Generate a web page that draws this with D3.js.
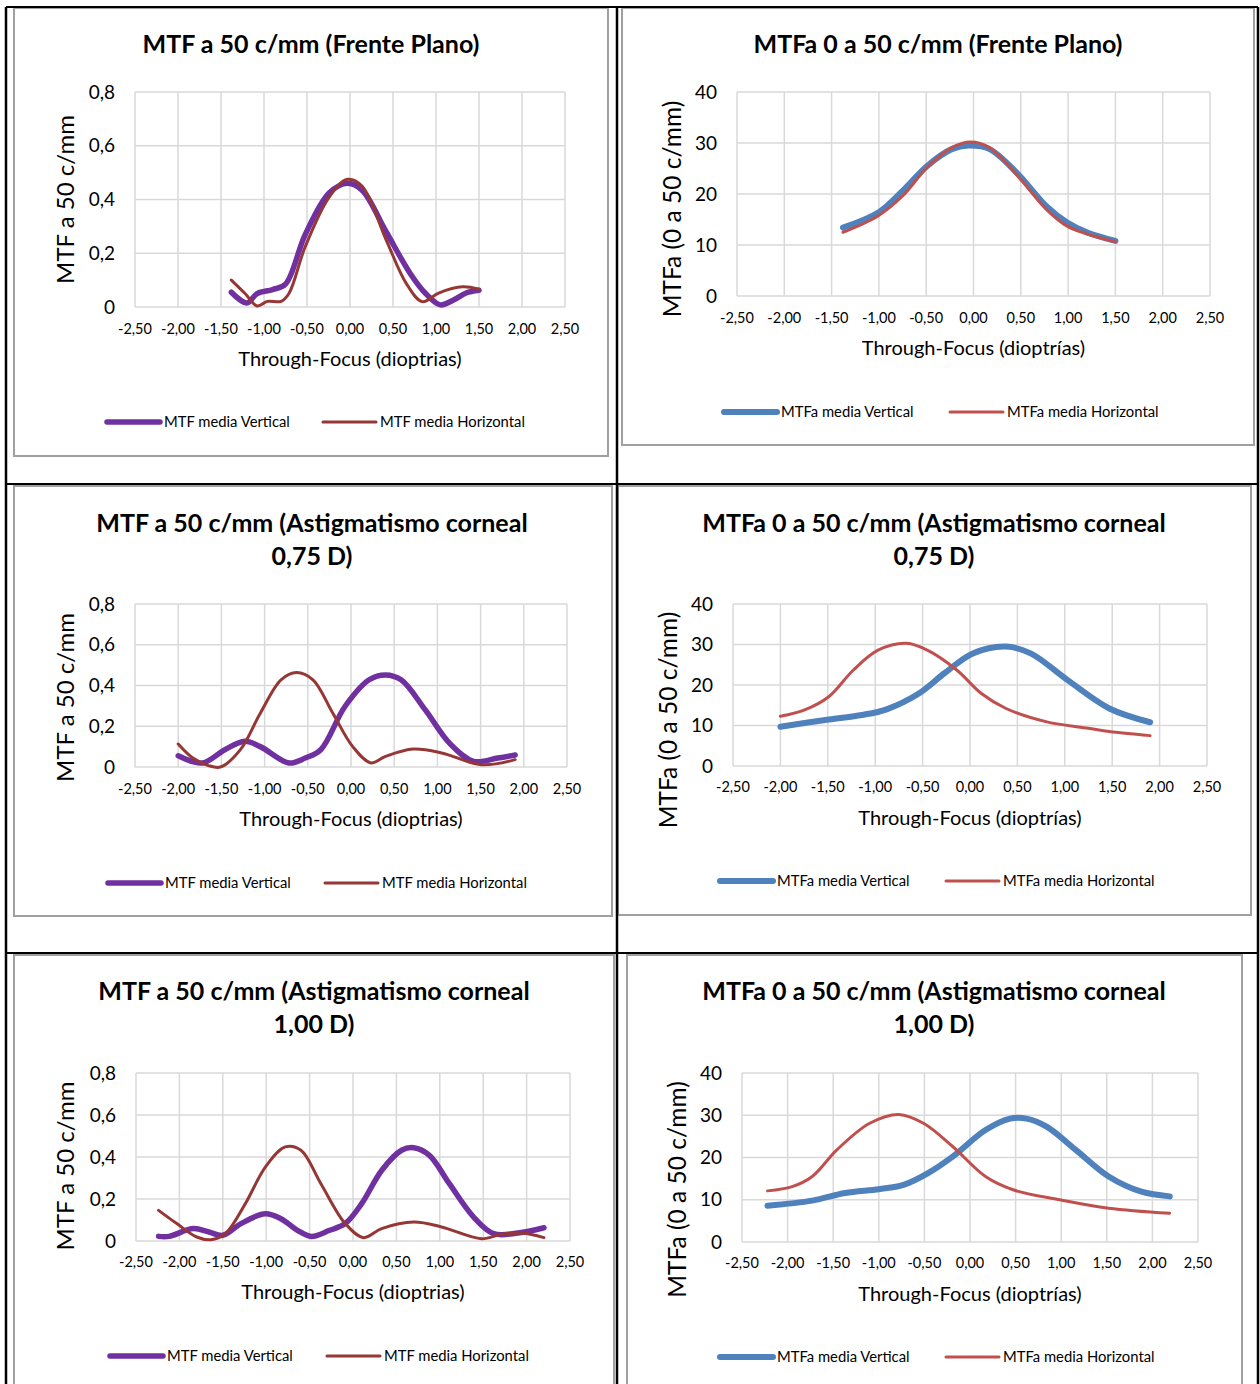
<!DOCTYPE html>
<html>
<head>
<meta charset="utf-8">
<script src="https://cdn.jsdelivr.net/npm/d3@7"></script>
<style>
  body { margin: 0; background: #fff; }
  svg { display: block; font-family: Lato, "Open Sans", sans-serif; }
</style>
</head>
<body>
<div id="chart"></div>
<script>
// through-focus readings [dioptres, value]
const planoMtfVert = [[-1.38,0.055],[-1.2,0.015],[-1.08,0.05],[-0.9,0.065],[-0.75,0.085],[-0.52,0.27],[-0.24,0.425],[-0.03,0.46],[0.14,0.435],[0.42,0.28],[0.7,0.125],[0.88,0.05],[1.05,0.008],[1.21,0.027],[1.35,0.052],[1.5,0.062]];
const planoMtfHor = [[-1.38,0.1],[-1.22,0.05],[-1.08,0.004],[-0.96,0.021],[-0.8,0.021],[-0.71,0.05],[-0.52,0.225],[-0.24,0.41],[-0.03,0.475],[0.14,0.45],[0.42,0.25],[0.65,0.09],[0.84,0.02],[1.03,0.052],[1.31,0.075],[1.5,0.066]];
const planoMtfaVert = [[-1.38,13.4],[-1.01,16.3],[-0.75,20.6],[-0.49,25.5],[-0.23,28.8],[-0.05,29.5],[0.17,28.8],[0.47,23.9],[0.77,17.6],[0.99,14.4],[1.21,12.4],[1.5,10.8]];
const planoMtfaHor = [[-1.38,12.5],[-1.01,15.7],[-0.75,19.6],[-0.49,25.2],[-0.23,29.1],[-0.03,30.2],[0.17,29.1],[0.47,23.5],[0.77,17.0],[0.99,13.7],[1.21,12.1],[1.5,10.65]];

const ast075MtfVert = [[-2.0,0.055],[-1.72,0.02],[-1.46,0.085],[-1.23,0.126],[-1.05,0.1],[-0.72,0.02],[-0.53,0.044],[-0.35,0.085],[-0.07,0.297],[0.21,0.428],[0.4,0.452],[0.58,0.428],[0.86,0.28],[1.14,0.117],[1.42,0.028],[1.7,0.044],[1.9,0.059]];
const ast075MtfHor = [[-2.0,0.113],[-1.83,0.044],[-1.65,0.007],[-1.51,0.0],[-1.28,0.085],[-1.05,0.264],[-0.81,0.428],[-0.63,0.464],[-0.44,0.428],[-0.21,0.264],[0.02,0.1],[0.23,0.02],[0.4,0.052],[0.72,0.088],[1.05,0.069],[1.51,0.011],[1.9,0.036]];
const ast075MtfaVert = [[-2.0,9.7],[-1.49,11.5],[-1.14,12.6],[-0.88,14.0],[-0.54,17.9],[-0.27,22.9],[0.03,27.8],[0.38,29.5],[0.64,27.8],[1.03,21.2],[1.47,14.2],[1.9,10.8]];
const ast075MtfaHor = [[-2.0,12.3],[-1.75,13.8],[-1.49,17.1],[-1.23,23.7],[-0.97,28.6],[-0.67,30.3],[-0.45,28.6],[-0.14,23.7],[0.12,17.9],[0.38,14.2],[0.81,10.9],[1.25,9.3],[1.47,8.5],[1.9,7.5]];

const ast100MtfVert = [[-2.24,0.022],[-2.12,0.022],[-1.84,0.059],[-1.66,0.043],[-1.5,0.027],[-1.29,0.083],[-1.01,0.13],[-0.83,0.106],[-0.64,0.051],[-0.48,0.022],[-0.27,0.051],[-0.09,0.083],[0.1,0.178],[0.33,0.336],[0.56,0.432],[0.7,0.444],[0.88,0.408],[1.11,0.273],[1.39,0.114],[1.62,0.035],[1.9,0.038],[2.2,0.063]];
const ast100MtfHor = [[-2.24,0.146],[-2.03,0.083],[-1.8,0.019],[-1.64,0.006],[-1.47,0.035],[-1.24,0.178],[-1.01,0.352],[-0.78,0.448],[-0.6,0.432],[-0.37,0.273],[-0.09,0.083],[0.12,0.016],[0.33,0.059],[0.7,0.09],[1.02,0.067],[1.48,0.011],[1.71,0.032],[1.95,0.038],[2.2,0.016]];
const ast100MtfaVert = [[-2.22,8.6],[-1.73,9.8],[-1.37,11.6],[-1.0,12.5],[-0.73,13.5],[-0.46,16.3],[-0.19,20.2],[0.17,26.5],[0.44,29.2],[0.62,29.2],[0.84,27.3],[1.16,21.8],[1.52,15.5],[1.88,11.9],[2.19,10.8]];
const ast100MtfaHor = [[-2.22,12.1],[-1.95,13.1],[-1.73,15.5],[-1.46,21.8],[-1.1,28.1],[-0.78,30.2],[-0.51,28.1],[-0.19,22.6],[0.17,15.5],[0.48,12.3],[0.98,10.0],[1.52,8.0],[2.19,6.8]];

const xTicks = [-2.5, -2, -1.5, -1, -0.5, 0, 0.5, 1, 1.5, 2, 2.5];
const mtfTicks = [0, 0.2, 0.4, 0.6, 0.8];
const mtfaTicks = [0, 10, 20, 30, 40];

const mtfNames = ["MTF media Vertical", "MTF media Horizontal"];
const mtfaNames = ["MTFa media Vertical", "MTFa media Horizontal"];
const mtfColors = ["#7030a0", "#953735"];
const mtfaColors = ["#4f81bd", "#c0504d"];

const W = 1260, H = 1384;
const svg = d3.select("#chart").append("svg")
  .attr("width", W).attr("height", H);
svg.append("rect").attr("width", W).attr("height", H).attr("fill", "#fff");

// Excel-style labels: comma decimals, plain hyphen for minus
const comma = v => d3.format(".2f")(v).replace(".", ",").replace("\u2212", "-");
const commaY = v => v === 0 ? "0" : String(v).replace(".", ",");

// layout for the six panels (yOff = shift of the rotated y title from the plot middle)
const panels = [
  { box: [14, 8, 608, 456], title: ["MTF a 50 c/mm (Frente Plano)"], tx: 311, ty: 44,
    plot: [135, 92, 565, 307], yTitle: "MTF a 50 c/mm", yTx: 66, yOff: 0, xTitle: "Through-Focus (dioptrias)",
    xTy: 359, tickY: 329, legY: 422, leg: [107, 323], type: "mtf", series: [planoMtfVert, planoMtfHor] },
  { box: [622, 8, 1254, 445], title: ["MTFa 0 a 50 c/mm (Frente Plano)"], tx: 938, ty: 44,
    plot: [737, 92, 1210, 296], yTitle: "MTFa (0 a 50 c/mm)", yTx: 672, yOff: 15, xTitle: "Through-Focus (dioptrías)",
    xTy: 348, tickY: 318, legY: 412, leg: [724, 950], type: "mtfa", series: [planoMtfaVert, planoMtfaHor] },
  { box: [14, 486, 612, 916], title: ["MTF a 50 c/mm (Astigmatismo corneal", "0,75 D)"], tx: 312, ty: 523,
    plot: [135, 604, 567, 767], yTitle: "MTF a 50 c/mm", yTx: 66, yOff: 12, xTitle: "Through-Focus (dioptrias)",
    xTy: 819, tickY: 789, legY: 883, leg: [108, 325], type: "mtf", series: [ast075MtfVert, ast075MtfHor] },
  { box: [618, 486, 1251, 915], title: ["MTFa 0 a 50 c/mm (Astigmatismo corneal", "0,75 D)"], tx: 934, ty: 523,
    plot: [733, 604, 1207, 766], yTitle: "MTFa (0 a 50 c/mm)", yTx: 668, yOff: 35, xTitle: "Through-Focus (dioptrías)",
    xTy: 818, tickY: 787, legY: 881, leg: [720, 946], type: "mtfa", series: [ast075MtfaVert, ast075MtfaHor] },
  { box: [14, 955, 614, 1400], title: ["MTF a 50 c/mm (Astigmatismo corneal", "1,00 D)"], tx: 314, ty: 991,
    plot: [136, 1073, 570, 1241], yTitle: "MTF a 50 c/mm", yTx: 66, yOff: 9, xTitle: "Through-Focus (dioptrias)",
    xTy: 1292, tickY: 1262, legY: 1356, leg: [110, 327], type: "mtf", series: [ast100MtfVert, ast100MtfHor] },
  { box: [627, 955, 1242, 1400], title: ["MTFa 0 a 50 c/mm (Astigmatismo corneal", "1,00 D)"], tx: 934, ty: 991,
    plot: [742, 1073, 1198, 1242], yTitle: "MTFa (0 a 50 c/mm)", yTx: 677, yOff: 32, xTitle: "Through-Focus (dioptrías)",
    xTy: 1294, tickY: 1263, legY: 1357, leg: [720, 946], type: "mtfa", series: [ast100MtfaVert, ast100MtfaHor] }
];

panels.forEach(p => {
  const g = svg.append("g");
  const [bx0, by0, bx1, by1] = p.box;
  g.append("rect")
    .attr("x", bx0).attr("y", by0).attr("width", bx1 - bx0).attr("height", by1 - by0)
    .attr("fill", "#fff").attr("stroke", "#a0a0a0").attr("stroke-width", 2);

  const isMtf = p.type === "mtf";
  const [px0, py0, px1, py1] = p.plot;
  const x = d3.scaleLinear().domain([-2.5, 2.5]).range([px0, px1]);
  const y = d3.scaleLinear().domain(isMtf ? [0, 0.8] : [0, 40]).range([py1, py0]);
  const yTicks = isMtf ? mtfTicks : mtfaTicks;
  const colors = isMtf ? mtfColors : mtfaColors;
  const names = isMtf ? mtfNames : mtfaNames;
  const thick = isMtf ? 5.5 : 6;

  // gridlines
  g.append("g").selectAll("line").data(yTicks).join("line")
    .attr("x1", px0).attr("x2", px1).attr("y1", d => y(d)).attr("y2", d => y(d))
    .attr("stroke", "#d9d9d9").attr("stroke-width", 1.5);
  g.append("g").selectAll("line").data(xTicks).join("line")
    .attr("x1", d => x(d)).attr("x2", d => x(d)).attr("y1", py0).attr("y2", py1)
    .attr("stroke", "#d9d9d9").attr("stroke-width", 1.5);

  // tick labels
  g.append("g").selectAll("text").data(xTicks).join("text")
    .attr("x", d => x(d)).attr("y", p.tickY).attr("dy", "0.35em")
    .attr("text-anchor", "middle").attr("font-size", 14.5).attr("fill", "#000")
    .text(comma);
  g.append("g").selectAll("text").data(yTicks).join("text")
    .attr("x", px0 - 20).attr("y", d => y(d)).attr("dy", "0.35em")
    .attr("text-anchor", "end").attr("font-size", 19).attr("fill", "#000")
    .text(commaY);

  // titles
  p.title.forEach((t, i) => {
    g.append("text").attr("x", p.tx).attr("y", p.ty + i * 33).attr("dy", "0.35em")
      .attr("text-anchor", "middle").attr("font-size", 25).attr("font-weight", "bold")
      .text(t);
  });
  g.append("text").attr("x", (px0 + px1) / 2).attr("y", p.xTy).attr("dy", "0.35em")
    .attr("text-anchor", "middle").attr("font-size", 20).text(p.xTitle);
  g.append("text")
    .attr("transform", `translate(${p.yTx},${(py0 + py1) / 2 + p.yOff}) rotate(-90)`)
    .attr("dy", "0.35em").attr("text-anchor", "middle").attr("font-size", isMtf ? 24 : 24.5).text(p.yTitle);

  // series
  const line = d3.line().x(d => x(d[0])).y(d => y(d[1])).curve(d3.curveCatmullRom.alpha(0.5));
  p.series.forEach((s, i) => {
    g.append("path").datum(s).attr("d", line)
      .attr("fill", "none").attr("stroke", colors[i])
      .attr("stroke-width", i === 0 ? thick : 3).attr("stroke-linecap", "round")
      .attr("stroke-linejoin", "round");
  });

  // legend
  names.forEach((n, i) => {
    const lx = p.leg[i];
    g.append("line").attr("x1", lx).attr("x2", lx + 53).attr("y1", p.legY).attr("y2", p.legY)
      .attr("stroke", colors[i]).attr("stroke-width", i === 0 ? thick : 3).attr("stroke-linecap", "round");
    g.append("text").attr("x", lx + 57).attr("y", p.legY).attr("dy", "0.35em")
      .attr("font-size", 14.8).text(n);
  });
});

// table rules
const rules = svg.append("g").attr("stroke", "#000");
[[6, 7, 6, H], [617, 7, 617, H], [1258, 7, 1258, H]].forEach(r =>
  rules.append("line").attr("x1", r[0]).attr("y1", r[1]).attr("x2", r[2]).attr("y2", r[3]).attr("stroke-width", 2.5));
[[6, 7, 1258, 7], [6, 484, 1258, 484], [6, 953, 1258, 953]].forEach(r =>
  rules.append("line").attr("x1", r[0]).attr("y1", r[1]).attr("x2", r[2]).attr("y2", r[3]).attr("stroke-width", 2));
</script>
</body>
</html>
